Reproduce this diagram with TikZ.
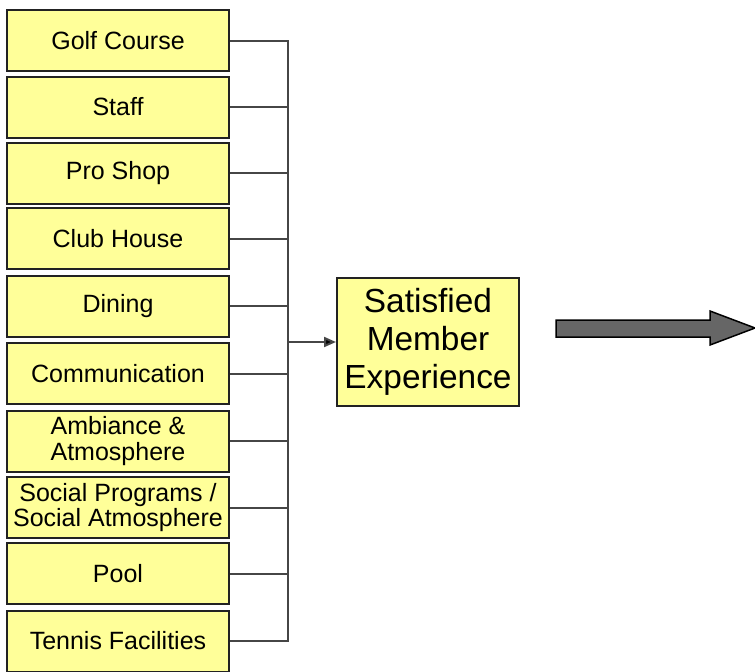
\documentclass[tikz,border=0pt]{standalone}
\usepackage{fontspec}
\setmainfont{Liberation Sans}
\usepackage{tikz}
\usetikzlibrary{arrows.meta, positioning}

\definecolor{boxyellow}{RGB}{255,255,153}
\definecolor{boxedge}{RGB}{34,34,34}
\definecolor{linegray}{RGB}{70,70,70}
\definecolor{arrowgray}{RGB}{102,102,102}

\tikzset{
    itembox/.style={draw=boxedge, line width=2pt, fill=boxyellow,
        minimum width=222pt, minimum height=61pt, inner sep=0pt,
        align=center, text=black, font=\fontsize{25}{25.5}\selectfont},
    mainbox/.style={draw=boxedge, line width=2pt, fill=boxyellow,
        minimum width=182pt, minimum height=128pt, inner sep=0pt,
        align=center, text=black, font=\fontsize{33.4}{38.3}\selectfont},
    busline/.style={draw=linegray, line width=2pt},
}

\begin{document}
\begin{tikzpicture}[x=1pt, y=-1pt]
                \useasboundingbox (0,0) rectangle (755,672);
                % the ten factors, top to bottom
                \node[itembox] (golf) at (118,40.5) {Golf Course};
                \node[itembox] (staff) at (118,107) {Staff};
                \node[itembox] (proshop) at (118,173) {Pro Shop};
                \node[itembox] (clubhouse) at (118,238.5) {Club House};
                \node[itembox] (dining) at (118,306) {Dining};
                \node[itembox] (comm) at (118,373.5) {Communication};
                \node[itembox] (ambiance) at (118,441) {Ambiance \&\\Atmosphere};
                \node[itembox] (social) at (118,507.5) {Social Programs /\\Social Atmosphere};
                \node[itembox] (pool) at (118,573.5) {Pool};
                \node[itembox] (tennis) at (118,641) {Tennis Facilities};
                % result box
                \node[mainbox] (sme) at (428,342) {Satisfied\\Member\\Experience};
                % bus joining all factors
                \coordinate (bus) at (288,0);
                \draw[busline] (golf.east) -- (golf.east -| bus) -- (tennis.east -| bus) -- (tennis.east);
                \foreach \n in {staff, proshop, clubhouse, dining, comm, ambiance, social, pool}
                    \draw[busline] (\n.east) -- (\n.east -| bus);
                \draw[busline, -{Triangle[length=12pt, width=10pt, fill=black]}] (bus |- sme.west) -- (sme.west);
                % big grey arrow on the right
                \draw[fill=arrowgray, line width=1.5pt, line join=miter]
                    (556,320) -- (710,320) -- (710,311) -- (755,328) -- (710,345) -- (710,337) -- (556,337) -- cycle;
            \end{tikzpicture}
\end{document}
